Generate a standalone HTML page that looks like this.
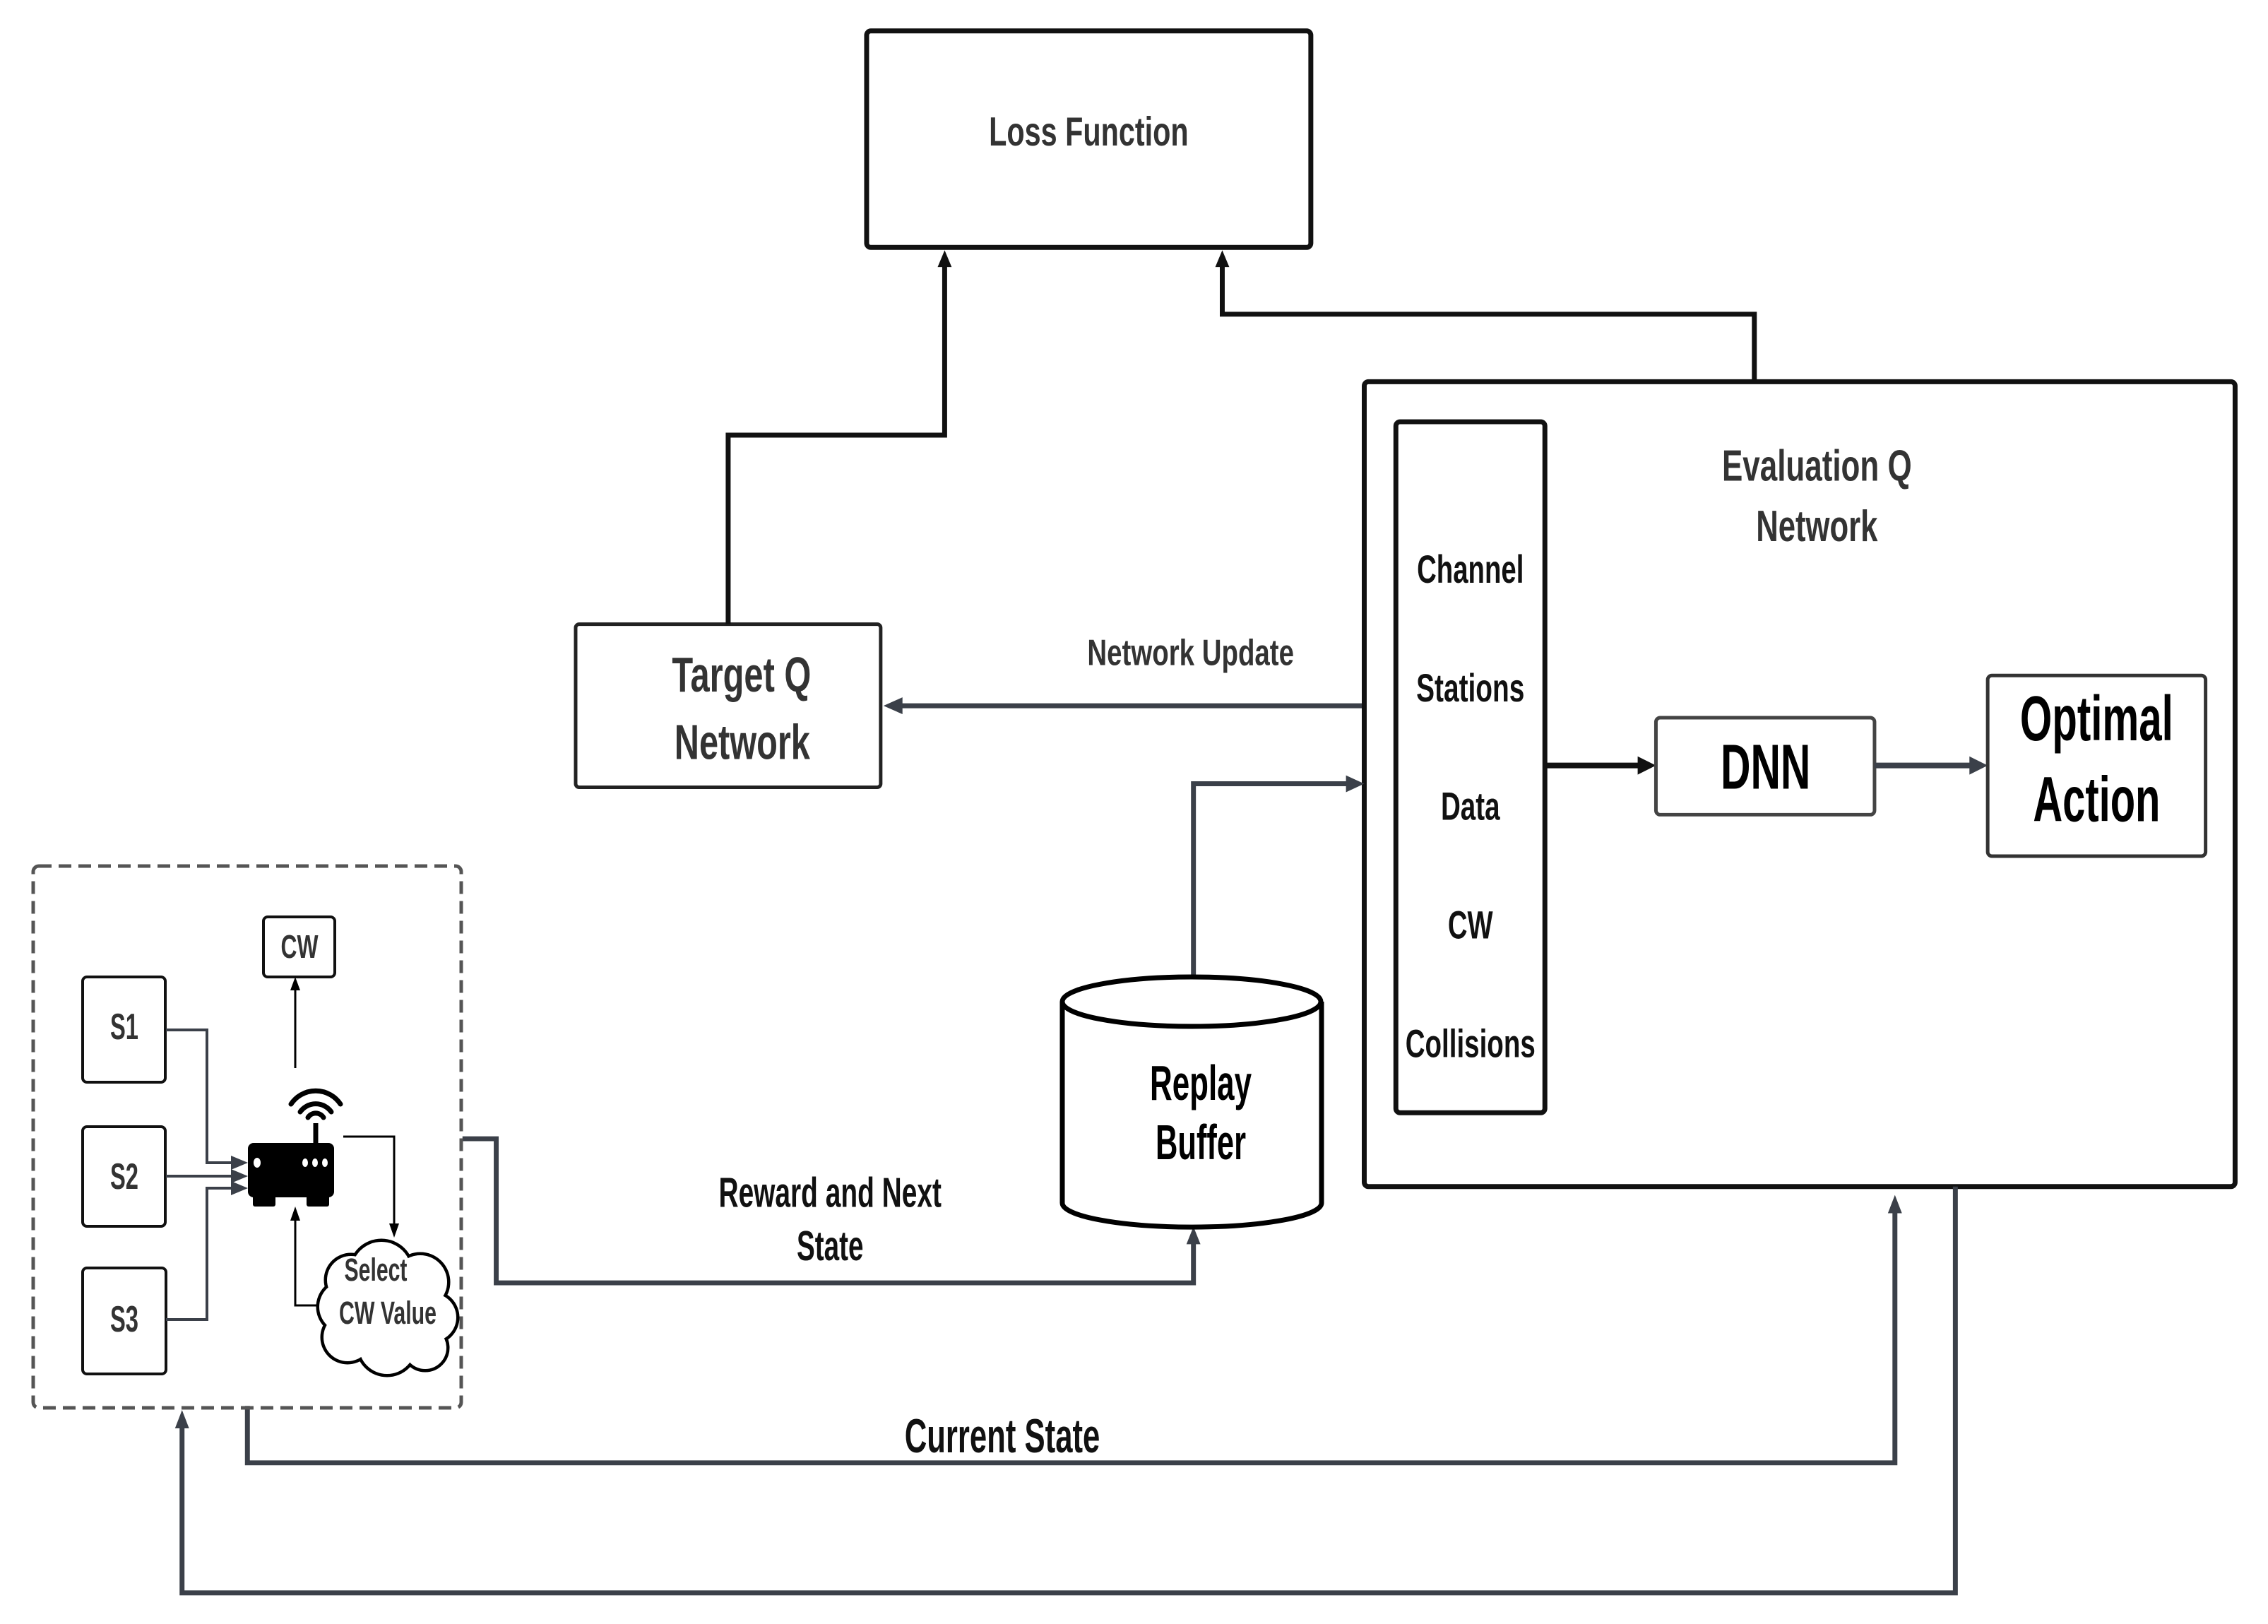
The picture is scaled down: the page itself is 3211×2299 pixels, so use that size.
<!DOCTYPE html>
<html><head><meta charset="utf-8"><style>
html,body{margin:0;padding:0;background:#fff}
svg{display:block}
text{font-family:"Liberation Sans Narrow","Liberation Sans",sans-serif;font-weight:bold;text-anchor:middle}
</style></head><body>
<svg width="3211" height="2299" viewBox="0 0 3211 2299" xmlns="http://www.w3.org/2000/svg">
<rect width="3211" height="2299" fill="#fff"/>
<g transform="scale(0.9951)">
<rect x="1233" y="44" width="632" height="308" rx="6" fill="#fff" stroke="#111" stroke-width="7"/>
<text x="1549" y="207" font-size="58" fill="#333" textLength="284" lengthAdjust="spacingAndGlyphs">Loss Function</text>

<rect x="819" y="888" width="434" height="232" rx="5" fill="#fff" stroke="#222" stroke-width="5"/>
<text x="1055" y="984" font-size="70" fill="#333" textLength="198" lengthAdjust="spacingAndGlyphs">Target Q</text>
<text x="1056" y="1080" font-size="70" fill="#333" textLength="193" lengthAdjust="spacingAndGlyphs">Network</text>

<path d="M1036 888 V619 H1344 V372" fill="none" stroke="#111" stroke-width="7"/>
<polygon points="1344,356 1334,380 1354,380" fill="#111"/>
<path d="M2496 543 V447 H1739 V372" fill="none" stroke="#111" stroke-width="7"/>
<polygon points="1739,356 1729,380 1749,380" fill="#111"/>

<path d="M1941 1004 H1280" fill="none" stroke="#3b4049" stroke-width="7"/>
<polygon points="1257,1004 1284,992 1284,1016" fill="#3b4049"/>
<text x="1694" y="946" font-size="52" fill="#333" textLength="294" lengthAdjust="spacingAndGlyphs">Network Update</text>

<rect x="1941" y="543" width="1239" height="1145" rx="6" fill="none" stroke="#111" stroke-width="7"/>
<text x="2585" y="684" font-size="62" fill="#333" textLength="270" lengthAdjust="spacingAndGlyphs">Evaluation Q</text>
<text x="2585" y="770" font-size="62" fill="#333" textLength="173" lengthAdjust="spacingAndGlyphs">Network</text>

<rect x="1986" y="600" width="212" height="983" rx="6" fill="#fff" stroke="#111" stroke-width="7"/>
<text x="2092" y="829" font-size="56" fill="#111" textLength="152" lengthAdjust="spacingAndGlyphs">Channel</text>
<text x="2092" y="998" font-size="56" fill="#111" textLength="154" lengthAdjust="spacingAndGlyphs">Stations</text>
<text x="2092" y="1166" font-size="56" fill="#111" textLength="84" lengthAdjust="spacingAndGlyphs">Data</text>
<text x="2092" y="1335" font-size="56" fill="#111" textLength="64" lengthAdjust="spacingAndGlyphs">CW</text>
<text x="2092" y="1504" font-size="56" fill="#111" textLength="185" lengthAdjust="spacingAndGlyphs">Collisions</text>

<path d="M2200 1089 H2336" stroke="#111" stroke-width="8"/>
<polygon points="2356,1089 2330,1076 2330,1102" fill="#111"/>
<rect x="2356" y="1021" width="311" height="138" rx="6" fill="#fff" stroke="#444" stroke-width="5"/>
<text x="2512" y="1122" font-size="90" fill="#000" textLength="128" lengthAdjust="spacingAndGlyphs">DNN</text>

<path d="M2667 1089 H2808" stroke="#3b4049" stroke-width="8"/>
<polygon points="2828,1089 2802,1076 2802,1102" fill="#3b4049"/>
<rect x="2828" y="961" width="310" height="257" rx="6" fill="#fff" stroke="#333" stroke-width="5"/>
<text x="2983" y="1053" font-size="90" fill="#000" textLength="218" lengthAdjust="spacingAndGlyphs">Optimal</text>
<text x="2983" y="1168" font-size="90" fill="#000" textLength="181" lengthAdjust="spacingAndGlyphs">Action</text>

<path d="M1698 1392 V1115 H1918" fill="none" stroke="#3b4049" stroke-width="7"/>
<polygon points="1941,1115 1915,1103 1915,1127" fill="#3b4049"/>

<path d="M658 1620 H706 V1825 H1698 V1765" fill="none" stroke="#3b4049" stroke-width="7"/>
<polygon points="1698,1745 1688,1770 1708,1770" fill="#3b4049"/>
<text x="1181" y="1717" font-size="60" fill="#111" textLength="317" lengthAdjust="spacingAndGlyphs">Reward and Next</text>
<text x="1181" y="1793" font-size="60" fill="#111" textLength="95" lengthAdjust="spacingAndGlyphs">State</text>

<path d="M352 2000 V2081 H2696 V1722" fill="none" stroke="#3b4049" stroke-width="7"/>
<polygon points="2696,1700 2686,1726 2706,1726" fill="#3b4049"/>
<text x="1426" y="2066" font-size="68" fill="#111" textLength="278" lengthAdjust="spacingAndGlyphs">Current State</text>

<path d="M2782 1688 V2266 H259 V2028" fill="none" stroke="#3b4049" stroke-width="7"/>
<polygon points="259,2006 249,2032 269,2032" fill="#3b4049"/>
</g>

<!-- unscaled (zoom-derived) -->
<path d="M1504 1418 V1703 A183 34 0 0 0 1871 1703 V1418" fill="#fff" stroke="#000" stroke-width="7"/>
<ellipse cx="1687" cy="1418" rx="183" ry="35" fill="#fff" stroke="#000" stroke-width="7"/>
<text x="1700" y="1557" font-size="70" fill="#000" textLength="144" lengthAdjust="spacingAndGlyphs">Replay</text>
<text x="1700" y="1641" font-size="70" fill="#000" textLength="128" lengthAdjust="spacingAndGlyphs">Buffer</text>

<rect x="47" y="1226" width="606" height="767" rx="8" fill="none" stroke="#555" stroke-width="5" stroke-dasharray="18,10"/>

<g fill="#fff" stroke="#111" stroke-width="4">
<rect x="117" y="1383" width="117" height="149" rx="6"/>
<rect x="117" y="1595" width="117" height="141" rx="6"/>
<rect x="117" y="1795" width="118" height="150" rx="6"/>
<rect x="373" y="1298" width="101" height="85" rx="6"/>
</g>
<text x="176" y="1471" font-size="52" fill="#333" textLength="40" lengthAdjust="spacingAndGlyphs">S1</text>
<text x="176" y="1683" font-size="52" fill="#333" textLength="40" lengthAdjust="spacingAndGlyphs">S2</text>
<text x="176" y="1885" font-size="52" fill="#333" textLength="40" lengthAdjust="spacingAndGlyphs">S3</text>
<text x="424" y="1356" font-size="46" fill="#333" textLength="53" lengthAdjust="spacingAndGlyphs">CW</text>

<g fill="none" stroke="#3b4049" stroke-width="4">
<path d="M235 1458 H293 V1646 H335"/>
<path d="M235 1665 H335"/>
<path d="M235 1868 H293 V1682 H335"/>
</g>
<g fill="#3b4049">
<polygon points="351,1646 327,1636 327,1656"/>
<polygon points="351,1665 327,1655 327,1675"/>
<polygon points="351,1682 327,1672 327,1692"/>
</g>

<path d="M418 1512 V1398" stroke="#000" stroke-width="3"/>
<polygon points="418,1383 411,1402 425,1402" fill="#000"/>

<rect x="351" y="1618" width="122" height="77" rx="8" fill="#000"/>
<rect x="358" y="1690" width="32" height="18" rx="3" fill="#000"/>
<rect x="434" y="1690" width="32" height="18" rx="3" fill="#000"/>
<ellipse cx="364" cy="1646" rx="5" ry="7" fill="#fff"/>
<ellipse cx="432" cy="1646" rx="4" ry="6" fill="#fff"/>
<ellipse cx="446" cy="1646" rx="4" ry="6" fill="#fff"/>
<ellipse cx="460" cy="1646" rx="4" ry="6" fill="#fff"/>
<path d="M447 1590 V1620" stroke="#000" stroke-width="7"/>
<g fill="none" stroke="#000" stroke-width="7" stroke-linecap="round">
<path d="M436 1582 A13 13 0 0 1 458 1582"/>
<path d="M425 1574 A27 27 0 0 1 469 1574"/>
<path d="M412 1563 A42 42 0 0 1 482 1563"/>
</g>

<path d="M486 1609 H558 V1738" fill="none" stroke="#000" stroke-width="3"/>
<polygon points="558,1752 551,1732 565,1732" fill="#000"/>
<path d="M448 1848 H418 V1722" fill="none" stroke="#000" stroke-width="3"/>
<polygon points="418,1708 411,1728 425,1728" fill="#000"/>

<g stroke="#000" stroke-width="9" fill="#000">
<circle cx="540" cy="1800" r="42"/><circle cx="595" cy="1815" r="38"/>
<circle cx="497" cy="1812" r="34"/>
<circle cx="488" cy="1850" r="36"/><circle cx="612" cy="1865" r="34"/>
<circle cx="492" cy="1893" r="34"/><circle cx="548" cy="1905" r="40"/>
<circle cx="602" cy="1908" r="30"/><circle cx="548" cy="1855" r="55"/>
</g>
<g fill="#fff">
<circle cx="540" cy="1800" r="42"/><circle cx="595" cy="1815" r="38"/>
<circle cx="497" cy="1812" r="34"/>
<circle cx="488" cy="1850" r="36"/><circle cx="612" cy="1865" r="34"/>
<circle cx="492" cy="1893" r="34"/><circle cx="548" cy="1905" r="40"/>
<circle cx="602" cy="1908" r="30"/><circle cx="548" cy="1855" r="55"/>
</g>
<text x="532" y="1813" font-size="45" fill="#333" textLength="89" lengthAdjust="spacingAndGlyphs">Select</text>
<text x="549" y="1874" font-size="45" fill="#333" textLength="138" lengthAdjust="spacingAndGlyphs">CW Value</text>
</svg>
</body></html>
